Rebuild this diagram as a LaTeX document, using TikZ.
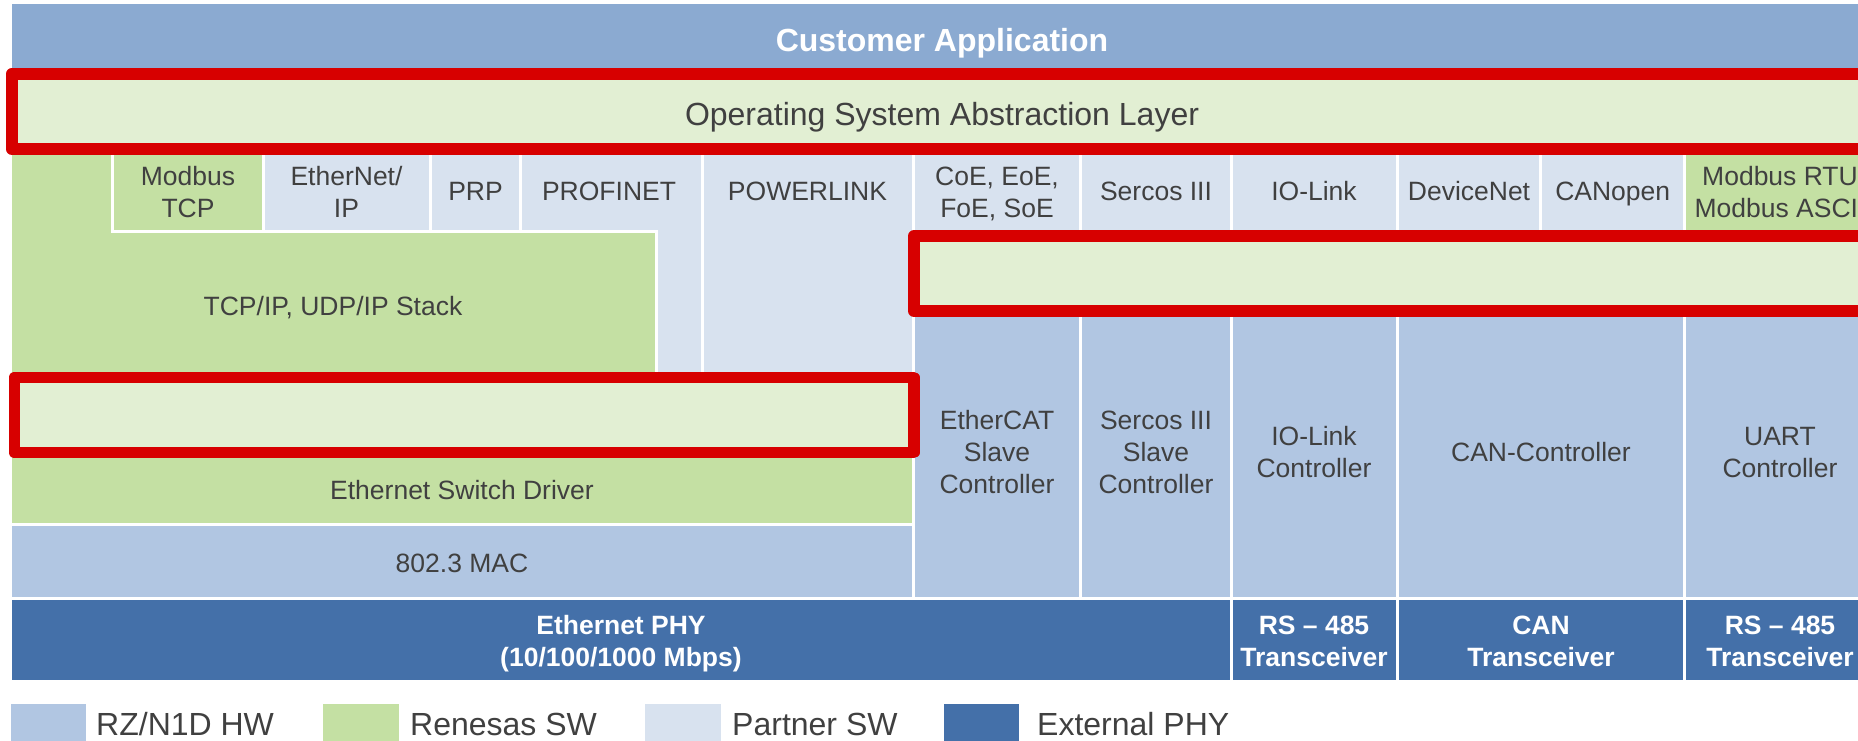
\documentclass[tikz,border=0pt]{standalone}
\usepackage{fontspec}
\setmainfont{Liberation Sans}
\definecolor{custblue}{HTML}{8BAAD1}
\definecolor{hwblue}{HTML}{B1C6E2}
\definecolor{swgreen}{HTML}{C4E0A3}
\definecolor{partner}{HTML}{D8E2EF}
\definecolor{phyblue}{HTML}{4470A9}
\definecolor{hilite}{HTML}{E2EFD3}
\definecolor{hired}{HTML}{D70000}
\definecolor{txt}{HTML}{404040}
\tikzset{
  cell/.style={draw=white, line width=3pt},
  hibox/.style={draw=hired, line width=11.8pt, fill=hilite, line join=round},
  lbl/.style={font=\fontsize{26.5}{32}\selectfont, text=txt, inner sep=0pt, align=center},
  blbl/.style={font=\bfseries\fontsize{26.5}{32}\selectfont, text=white, inner sep=0pt, align=center},
  big/.style={font=\fontsize{32}{38}\selectfont, text=txt, inner sep=0pt},
  legtxt/.style={font=\fontsize{32}{38}\selectfont, text=txt, inner sep=0pt, anchor=base west},
  legsq/.style={draw=none},
}
\begin{document}
\begin{tikzpicture}[x=1pt,y=-1pt]
\useasboundingbox (0,0) rectangle (1858,741);
\clip (0,0) rectangle (1858,741);
% customer application band
\path[cell, fill=custblue] (10,3) rectangle (1885,74);
% protocol row and software stacks
\path[cell, fill=partner] (520.5,149) rectangle (702,380);
\path[cell, fill=swgreen] (10,149) -- (112,149) -- (112,231.5) -- (656,231.5) -- (656,380) -- (10,380) -- cycle;
\path[cell, fill=swgreen] (112,149) rectangle (263.5,231.5);
\path[cell, fill=partner] (263.5,149) rectangle (430,231.5);
\path[cell, fill=partner] (430,149) rectangle (520.5,231.5);
\path[cell, fill=partner] (702,149) rectangle (913.5,380);
\path[cell, fill=partner] (913.5,149) rectangle (1080,231);
\path[cell, fill=partner] (1080,149) rectangle (1231,231);
\path[cell, fill=partner] (1231,149) rectangle (1397,231);
\path[cell, fill=partner] (1397,149) rectangle (1540,231);
\path[cell, fill=partner] (1540,149) rectangle (1684.5,231);
\path[cell, fill=swgreen] (1684.5,149) rectangle (1885,231);
% hardware controllers
\path[cell, fill=hwblue] (913.5,300) rectangle (1080,598);
\path[cell, fill=hwblue] (1080,300) rectangle (1231,598);
\path[cell, fill=hwblue] (1231,300) rectangle (1397,598);
\path[cell, fill=hwblue] (1397,300) rectangle (1684.5,598);
\path[cell, fill=hwblue] (1684.5,300) rectangle (1885,598);
\path[cell, fill=swgreen] (10,380) rectangle (913.5,524.5);
\path[cell, fill=hwblue] (10,524.5) rectangle (913.5,598);
% PHY row
\path[cell, fill=phyblue] (10,598) rectangle (1231,681.5);
\path[cell, fill=phyblue] (1231,598) rectangle (1397,681.5);
\path[cell, fill=phyblue] (1397,598) rectangle (1684.5,681.5);
\path[cell, fill=phyblue] (1684.5,598) rectangle (1885,681.5);
% highlight boxes
\path[hibox] (11.7,74) rectangle (1890,149);
\path[hibox] (914,236) rectangle (1890,311);
\path[hibox] (14.5,377.5) rectangle (913.6,452.5);
% texts
\node[big, font=\bfseries\fontsize{32}{38}\selectfont, text=white, anchor=base] (cust) at (942,51.7) {Customer Application};
\node[big, anchor=base] (osal) at (942,125.5) {Operating System Abstraction Layer};
\node[lbl] (mtcp) at (188,194.6) {\strut Modbus\\TCP\strut};
\node[lbl] (eip) at (346.5,194.6) {\strut EtherNet/\\IP\strut};
\node[lbl, anchor=base] (prp) at (475.5,200) {PRP};
\node[lbl, anchor=base] (pnet) at (609,200) {PROFINET};
\node[lbl, anchor=base] (plink) at (807.5,200) {POWERLINK};
\node[lbl] (coe) at (997,194.6) {\strut CoE, EoE,\\FoE, SoE\strut};
\node[lbl, anchor=base] (sercos) at (1156,200) {Sercos III};
\node[lbl, anchor=base] (iolink) at (1314,200) {IO-Link};
\node[lbl, anchor=base] (dnet) at (1469,200) {DeviceNet};
\node[lbl, anchor=base] (canopen) at (1612.7,200) {CANopen};
\node[lbl] (mrtu) at (1780,194.6) {\strut Modbus RTU\\Modbus ASCII\strut};
\node[lbl, anchor=base] (tcpip) at (333,315.5) {TCP/IP, UDP/IP Stack};
\node[lbl, anchor=base] (esd) at (462,499.3) {Ethernet Switch Driver};
\node[lbl, anchor=base] (mac) at (462,572.3) {802.3 MAC};
\node[lbl] (ecat) at (997,454.9) {\strut EtherCAT\\Slave\\Controller\strut};
\node[lbl] (sslave) at (1156,454.9) {\strut Sercos III\\Slave\\Controller\strut};
\node[lbl] (ioctl) at (1314,455.1) {\strut IO-Link\\Controller\strut};
\node[lbl, anchor=base] (canctl) at (1541,461.5) {CAN-Controller};
\node[lbl] (uart) at (1780,455.1) {\strut UART\\Controller\strut};
\node[blbl] (ephy) at (621,643.6) {\strut Ethernet PHY\\(10/100/1000 Mbps)\strut};
\node[blbl] (rs1) at (1314,643.6) {\strut RS – 485\\Transceiver\strut};
\node[blbl] (cantr) at (1541,643.6) {\strut CAN\\Transceiver\strut};
\node[blbl] (rs2) at (1780,643.6) {\strut RS – 485\\Transceiver\strut};
% legend
\path[legsq, fill=hwblue] (11,704) rectangle (86,750);
\path[legsq, fill=swgreen] (323,704) rectangle (398.6,750);
\path[legsq, fill=partner] (645,704) rectangle (720.6,750);
\path[legsq, fill=phyblue] (944,704) rectangle (1019,750);
\node[legtxt] (lg1) at (96,735) {RZ/N1D HW};
\node[legtxt] (lg2) at (410,735) {Renesas SW};
\node[legtxt] (lg3) at (732,735) {Partner SW};
\node[legtxt] (lg4) at (1037,735) {External PHY};
\end{tikzpicture}
\end{document}
